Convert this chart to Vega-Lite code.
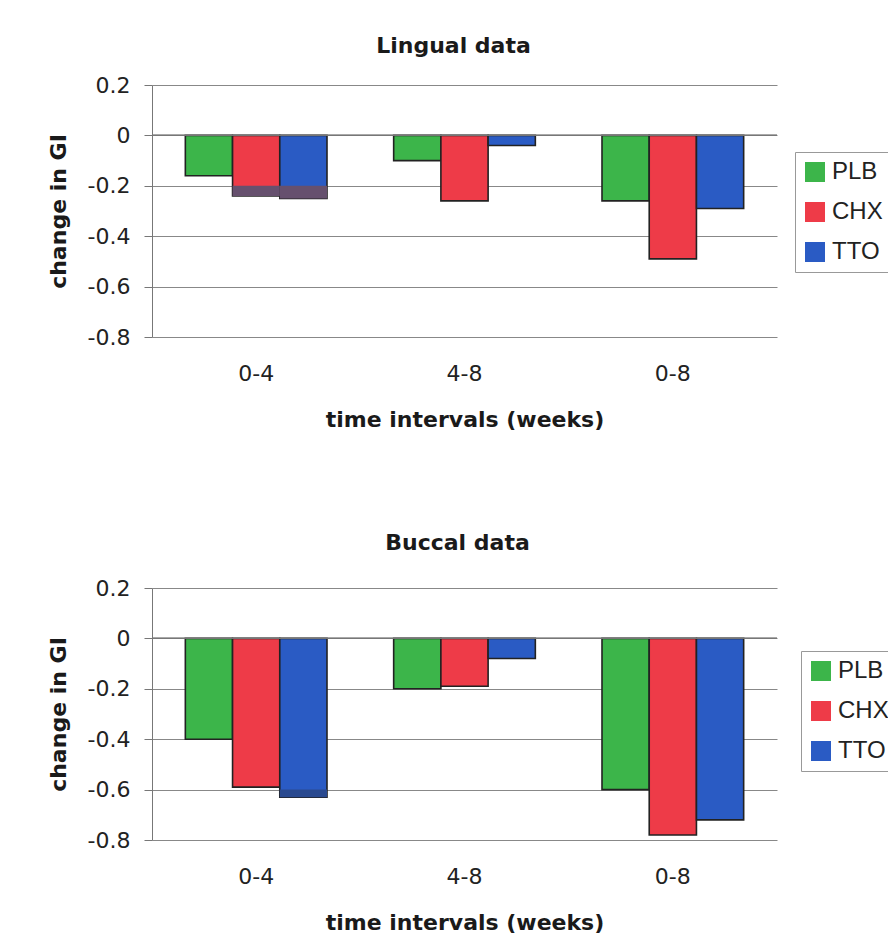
{
  "$schema": "https://vega.github.io/schema/vega-lite/v6.json",
  "background": "white",
  "padding": {"left": 47, "top": 35, "right": 0, "bottom": 0},
  "spacing": 102,
  "datasets": {
    "lingual": [
      {"interval": "0-4", "group": "PLB", "change": -0.16},
      {"interval": "0-4", "group": "CHX", "change": -0.24, "capTop": -0.2},
      {"interval": "0-4", "group": "TTO", "change": -0.25, "capTop": -0.2},
      {"interval": "4-8", "group": "PLB", "change": -0.10},
      {"interval": "4-8", "group": "CHX", "change": -0.26},
      {"interval": "4-8", "group": "TTO", "change": -0.04},
      {"interval": "0-8", "group": "PLB", "change": -0.26},
      {"interval": "0-8", "group": "CHX", "change": -0.49},
      {"interval": "0-8", "group": "TTO", "change": -0.29}
    ],
    "buccal": [
      {"interval": "0-4", "group": "PLB", "change": -0.40},
      {"interval": "0-4", "group": "CHX", "change": -0.59},
      {"interval": "0-4", "group": "TTO", "change": -0.63, "capTop": -0.6},
      {"interval": "4-8", "group": "PLB", "change": -0.20},
      {"interval": "4-8", "group": "CHX", "change": -0.19},
      {"interval": "4-8", "group": "TTO", "change": -0.08},
      {"interval": "0-8", "group": "PLB", "change": -0.60},
      {"interval": "0-8", "group": "CHX", "change": -0.78},
      {"interval": "0-8", "group": "TTO", "change": -0.72}
    ]
  },
  "config": {
    "font": "Liberation Sans",
    "view": {"stroke": null},
    "title": {"fontSize": 22, "fontWeight": "bold", "color": "#1a1a1a", "anchor": "middle", "font": "DejaVu Sans"},
    "axis": {
      "labelFont": "DejaVu Sans",
      "labelFontSize": 22,
      "labelColor": "#222",
      "titleFont": "DejaVu Sans",
      "titleFontWeight": "bold",
      "titleColor": "#1a1a1a",
      "gridColor": "#888",
      "domainColor": "#777",
      "tickColor": "#777"
    },
    "legend": {
      "labelFont": "Liberation Sans",
      "labelFontSize": 24,
      "labelColor": "#222",
      "symbolType": "square",
      "symbolSize": 400,
      "symbolStrokeWidth": 0,
      "strokeColor": "#999",
      "padding": 8,
      "rowPadding": 16,
      "labelOffset": 5
    }
  },
  "resolve": {"legend": {"color": "independent"}},
  "vconcat": [
    {
      "title": {"text": "Lingual data", "offset": 16, "dx": -11},
      "width": 625,
      "height": 252,
      "data": {"name": "lingual"},
      "layer": [
        {
          "mark": {"type": "bar", "stroke": "#222", "strokeWidth": 1.6},
          "encoding": {
            "x": {"field": "interval", "type": "nominal", "sort": ["0-4", "4-8", "0-8"],
                  "scale": {"paddingInner": 0.32, "paddingOuter": 0.16},
                  "title": "time intervals (weeks)",
                  "axis": {"labelAngle": 0, "ticks": false, "domain": false, "labelPadding": 26, "titlePadding": 25, "titleFontSize": 22}},
            "xOffset": {"field": "group", "type": "nominal", "sort": ["PLB", "CHX", "TTO"], "scale": {"paddingInner": 0, "paddingOuter": 0}},
            "y": {"field": "change", "type": "quantitative",
                  "scale": {"domain": [-0.8, 0.2], "nice": false, "zero": false},
                  "title": "change in GI",
                  "axis": {"values": [-0.8, -0.6, -0.4, -0.2, 0, 0.2], "labelExpr": "toString(datum.value)", "tickSize": 8, "labelPadding": 14, "titlePadding": 17, "titleFontSize": 22}},
            "color": {"field": "group", "type": "nominal", "sort": ["PLB", "CHX", "TTO"],
                      "scale": {"domain": ["PLB", "CHX", "TTO"], "range": ["#3cb54a", "#ee3b48", "#2a5bc4"]},
                      "legend": {"title": null, "orient": "none", "legendX": 643, "legendY": 67}}
          }
        },
        {
          "transform": [{"filter": "isValid(datum.capTop)"}],
          "mark": {"type": "bar", "color": "#66506e"},
          "encoding": {
            "x": {"field": "interval", "type": "nominal", "sort": ["0-4", "4-8", "0-8"]},
            "xOffset": {"field": "group", "type": "nominal", "sort": ["PLB", "CHX", "TTO"]},
            "y": {"field": "capTop", "type": "quantitative"},
            "y2": {"field": "change"}
          }
        },
        {
          "mark": {"type": "rule", "color": "#777", "strokeWidth": 1},
          "encoding": {"y": {"datum": 0, "type": "quantitative"}}
        }
      ]
    },
    {
      "title": {"text": "Buccal data", "offset": 22, "dx": -7},
      "width": 625,
      "height": 252,
      "data": {"name": "buccal"},
      "layer": [
        {
          "mark": {"type": "bar", "stroke": "#222", "strokeWidth": 1.6},
          "encoding": {
            "x": {"field": "interval", "type": "nominal", "sort": ["0-4", "4-8", "0-8"],
                  "scale": {"paddingInner": 0.32, "paddingOuter": 0.16},
                  "title": "time intervals (weeks)",
                  "axis": {"labelAngle": 0, "ticks": false, "domain": false, "labelPadding": 26, "titlePadding": 25, "titleFontSize": 22}},
            "xOffset": {"field": "group", "type": "nominal", "sort": ["PLB", "CHX", "TTO"], "scale": {"paddingInner": 0, "paddingOuter": 0}},
            "y": {"field": "change", "type": "quantitative",
                  "scale": {"domain": [-0.8, 0.2], "nice": false, "zero": false},
                  "title": "change in GI",
                  "axis": {"values": [-0.8, -0.6, -0.4, -0.2, 0, 0.2], "labelExpr": "toString(datum.value)", "tickSize": 8, "labelPadding": 14, "titlePadding": 17, "titleFontSize": 22}},
            "color": {"field": "group", "type": "nominal", "sort": ["PLB", "CHX", "TTO"],
                      "scale": {"domain": ["PLB", "CHX", "TTO"], "range": ["#3cb54a", "#ee3b48", "#2a5bc4"]},
                      "legend": {"title": null, "orient": "none", "legendX": 649, "legendY": 63}}
          }
        },
        {
          "transform": [{"filter": "isValid(datum.capTop)"}],
          "mark": {"type": "bar", "color": "#2a4a90"},
          "encoding": {
            "x": {"field": "interval", "type": "nominal", "sort": ["0-4", "4-8", "0-8"]},
            "xOffset": {"field": "group", "type": "nominal", "sort": ["PLB", "CHX", "TTO"]},
            "y": {"field": "capTop", "type": "quantitative"},
            "y2": {"field": "change"}
          }
        },
        {
          "mark": {"type": "rule", "color": "#777", "strokeWidth": 1},
          "encoding": {"y": {"datum": 0, "type": "quantitative"}}
        }
      ]
    }
  ]
}
